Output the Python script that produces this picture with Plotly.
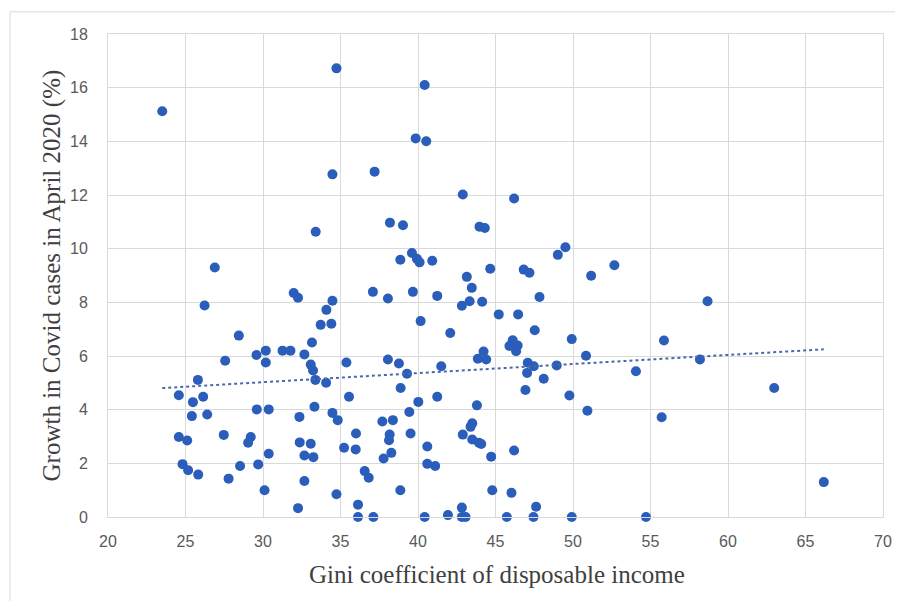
import numpy as np
import plotly.graph_objects as go

gini = [
    34.74, 23.50, 34.48, 33.40, 26.89, 40.43, 39.85, 40.53, 37.20, 42.89,
    46.20, 38.19, 39.03, 43.97, 44.31, 39.61, 38.86, 39.93, 40.10, 40.92,
    44.66, 43.15, 46.82, 47.19, 49.02, 49.51, 52.67, 51.17, 31.98, 32.26,
    34.48, 26.23, 34.09, 33.72, 34.41, 28.44, 33.16, 29.58, 30.18, 31.26,
    31.77, 32.67, 27.56, 30.18, 33.08, 33.23, 33.38, 34.07, 35.38, 25.80,
    24.57, 25.48, 26.14, 25.41, 26.40, 29.60, 30.37, 35.55, 32.35, 33.32,
    34.48, 34.82, 24.57, 25.11, 27.47, 29.21, 29.04, 32.37, 33.08, 36.00,
    35.23, 35.98, 30.37, 32.67, 33.25, 24.81, 25.17, 25.82, 28.52, 29.69,
    27.78, 32.67, 30.10, 34.74, 32.26, 36.13, 36.13, 37.09, 38.06, 39.67,
    41.24, 43.47, 42.83, 43.33, 44.14, 47.84, 45.21, 46.46, 40.17, 47.53,
    42.08, 46.11, 45.90, 46.43, 46.33, 44.23, 43.86, 44.40, 47.08, 47.47,
    47.04, 48.11, 46.93, 48.95, 38.06, 38.77, 39.29, 41.50, 38.88, 41.24,
    40.02, 43.80, 39.44, 37.70, 38.38, 43.50, 43.39, 38.17, 38.13, 39.52,
    42.89, 43.50, 43.93, 44.08, 38.28, 37.78, 40.60, 46.20, 44.72, 40.60,
    41.11, 36.56, 36.82, 38.86, 44.79, 46.03, 37.12, 40.43, 41.93, 42.83,
    42.83, 43.07, 45.73, 47.62, 47.45, 58.68, 49.92, 55.87, 50.84, 58.19,
    54.06, 62.98, 49.77, 50.93, 55.72, 66.18, 49.92, 54.71,
]
growth = [
    16.72, 15.12, 12.77, 10.63, 9.30, 16.10, 14.11, 14.00, 12.87, 12.02,
    11.87, 10.97, 10.87, 10.82, 10.77, 9.84, 9.59, 9.62, 9.49, 9.55,
    9.25, 8.95, 9.22, 9.10, 9.77, 10.05, 9.38, 8.99, 8.35, 8.17,
    8.06, 7.88, 7.72, 7.16, 7.20, 6.76, 6.50, 6.04, 6.20, 6.20,
    6.20, 6.06, 5.82, 5.76, 5.68, 5.46, 5.11, 5.00, 5.76, 5.11,
    4.54, 4.28, 4.48, 3.76, 3.82, 4.01, 4.01, 4.48, 3.73, 4.11,
    3.88, 3.61, 2.98, 2.85, 3.06, 2.98, 2.77, 2.78, 2.73, 3.11,
    2.58, 2.52, 2.36, 2.29, 2.23, 1.97, 1.74, 1.58, 1.90, 1.96,
    1.43, 1.34, 1.00, 0.85, 0.33, 0.46, 0.00, 8.39, 8.14, 8.39,
    8.24, 8.54, 7.87, 8.04, 8.02, 8.20, 7.55, 7.55, 7.30, 6.96,
    6.86, 6.59, 6.37, 6.39, 6.18, 6.17, 5.90, 5.87, 5.75, 5.62,
    5.37, 5.15, 4.73, 5.65, 5.87, 5.72, 5.34, 5.62, 4.81, 4.48,
    4.29, 4.16, 3.91, 3.56, 3.61, 3.49, 3.36, 3.07, 2.86, 3.11,
    3.07, 2.89, 2.77, 2.72, 2.39, 2.18, 2.63, 2.48, 2.25, 1.98,
    1.90, 1.71, 1.46, 1.00, 1.00, 0.90, 0.00, 0.00, 0.07, 0.35,
    0.00, 0.00, 0.00, 0.38, 0.00, 8.04, 6.63, 6.58, 6.01, 5.87,
    5.43, 4.81, 4.53, 3.96, 3.72, 1.30, 0.00, 0.00,
]

x_ticks = [20, 25, 30, 35, 40, 45, 50, 55, 60, 65, 70]
y_ticks = [0, 2, 4, 6, 8, 10, 12, 14, 16, 18]
x_title = "Gini coefficient of disposable income"
y_title = "Growth in Covid cases in April 2020 (%)"

gx = np.array(gini)
gy = np.array(growth)
slope, intercept = np.polyfit(gx, gy, 1)
tx = np.array([gx.min(), gx.max()])
ty = slope * tx + intercept

fig = go.Figure()
fig.add_trace(go.Scatter(
    x=gini, y=growth, mode="markers",
    marker=dict(color="#2B5DBA", size=10, line=dict(width=0)),
    cliponaxis=False, showlegend=False,
))
fig.add_trace(go.Scatter(
    x=tx, y=ty, mode="lines",
    line=dict(color="#4A68A8", width=2, dash="dot"),
    showlegend=False,
))

grid = "#D9D9D9"
tickfont = dict(family="Liberation Sans Narrow, Arial Narrow, Liberation Sans, sans-serif",
                size=16, color="#595959")
titlefont = dict(family="Liberation Serif, Times New Roman, serif", size=25, color="#404040")
fig.update_layout(
    width=887, height=593,
    margin=dict(l=100, r=12, t=26, b=84, autoexpand=False),
    paper_bgcolor="white", plot_bgcolor="white",
    xaxis=dict(range=[20, 70], tickvals=x_ticks, showgrid=True, gridcolor=grid,
               gridwidth=1, zeroline=False, showline=True, linecolor=grid,
               mirror=True, tickfont=tickfont, ticks="", ticklabelstandoff=10,
               automargin=False),
    yaxis=dict(range=[0, 18], tickvals=y_ticks, showgrid=True, gridcolor=grid,
               gridwidth=1, zeroline=False, showline=True, linecolor=grid,
               mirror=True, tickfont=tickfont, ticks="", ticklabelstandoff=16,
               automargin=False),
    annotations=[
        dict(text=x_title, xref="paper", yref="paper", x=0.502, y=-0.12,
             xanchor="center", yanchor="middle", showarrow=False, font=titlefont),
        dict(text=y_title, xref="paper", yref="paper", x=-0.0723, y=0.5,
             xanchor="center", yanchor="middle", showarrow=False, textangle=-90,
             font=titlefont),
    ],
    shapes=[dict(type="rect", xref="paper", yref="paper",
                 x0=-0.1265, x1=1.05, y0=-0.25, y1=1.046,
                 line=dict(color="#D9D9D9", width=1), fillcolor="rgba(0,0,0,0)", layer="below")],
)

fig.write_html("out.html")
